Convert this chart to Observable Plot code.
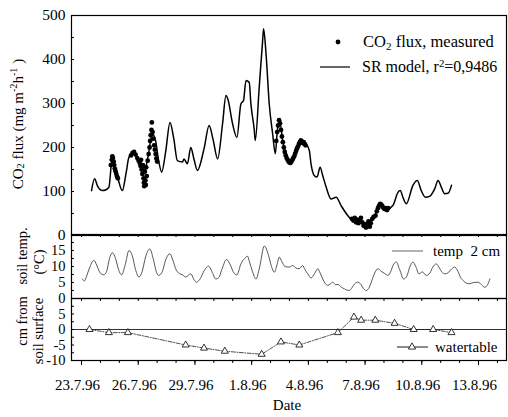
<!DOCTYPE html>
<html><head><meta charset="utf-8">
<script src="https://cdn.jsdelivr.net/npm/d3@7"></script>
<script src="https://cdn.jsdelivr.net/npm/@observablehq/plot@0.6"></script>
<style>
html,body{margin:0;padding:0;background:#fff;}
#chart{position:relative;width:508px;height:417px;}
#chart svg{position:absolute;left:0;top:0;background:transparent !important;}
#chart svg text{font-family:'Liberation Serif',serif !important;}
</style></head><body><div id="chart"></div>
<script>
// ---- data (days after 23.7.96 00:00) ----
const modelDay = [0.53,0.69,0.85,1.10,1.30,1.45,1.63,1.89,2.16,2.35,2.51,2.77,3.04,3.22,3.34,3.50,3.75,3.92,4.08,4.24,4.45,4.68,4.88,5.07,5.34,5.42,5.60,5.78,5.94,6.13,6.48,6.75,6.95,7.20,7.46,7.64,7.74,7.99,8.22,8.43,8.57,8.70,8.87,8.96,9.14,9.19,9.40,9.58,9.63,9.76,9.93,10.11,10.25,10.38,10.51,10.64,10.82,10.99,11.17,11.35,11.61,11.88,12.05,12.14,12.32,12.46,12.62,12.76,12.94,13.20,13.47,13.73,14.09,14.35,14.63,14.90,15.15,15.50,15.68,15.85,16.21,16.47,16.74,16.86,17.00,17.18,17.53,17.76,17.97,18.19,18.41,18.68,18.86,19.03,19.21,19.39,19.57];
const modelFlux = [102,129,112,102,104,110,178,136,102,140,178,189,170,160,148,175,231,215,170,144,190,257,220,170,167,174,163,200,175,148,197,250,220,174,254,318,310,254,223,299,307,352,348,299,239,216,337,443,470,413,299,231,186,246,254,216,185,170,167,189,216,208,193,163,136,133,155,136,110,83,87,68,45,34,32,28,30,42,62,68,61,68,98,102,87,72,114,125,102,87,89,106,125,110,95,96,114];

const measDay = [1.55,1.60,1.63,1.66,1.70,1.73,1.76,1.80,1.84,1.88,1.92,
 2.62,2.70,2.78,2.86,2.95,3.02,3.08,3.12,3.15,3.18,3.22,3.25,3.28,3.30,3.32,3.35,3.38,3.40,3.42,3.45,
 3.50,3.55,3.60,3.63,3.66,3.70,3.72,3.76,3.80,3.84,3.88,3.92,3.96,4.00,
 10.30,10.35,10.40,10.45,10.50,10.55,10.60,10.65,
 10.70,10.75,10.80,10.85,10.90,10.95,11.00,11.05,11.10,11.15,11.20,11.25,11.30,11.35,11.40,11.45,11.50,11.55,11.60,11.65,11.70,11.75,11.80,11.85,
 14.30,14.38,14.45,14.52,14.58,14.65,14.72,14.78,14.85,14.92,14.98,15.05,15.10,15.18,15.25,15.30,15.38,15.45,
 15.55,15.62,15.68,15.74,15.80,15.86,15.92,15.98,16.04,16.10,16.16,16.22];
const measFlux = [160,172,180,176,168,160,152,146,140,134,130,
 182,188,190,184,176,170,165,158,172,150,140,160,130,120,112,145,125,115,155,135,
 170,185,200,215,228,240,257,235,220,205,195,185,175,168,
 215,235,250,262,255,240,225,212,
 200,190,182,176,172,168,166,165,168,172,176,180,186,192,198,202,208,212,216,214,210,212,208,205,
 38,34,40,30,36,28,33,40,30,22,26,18,24,32,20,28,38,42,
 45,55,62,68,72,70,66,62,60,62,58,62];

const tempDay = [0.04,0.16,0.27,0.42,0.65,0.80,0.92,1.06,1.18,1.33,1.48,1.63,1.80,1.96,2.12,2.31,2.51,2.68,2.86,3.04,3.21,3.39,3.61,3.79,3.95,4.07,4.24,4.48,4.67,4.83,4.98,5.17,5.34,5.51,5.78,5.94,6.08,6.26,6.50,6.72,6.89,7.11,7.26,7.42,7.67,7.87,8.06,8.22,8.43,8.61,8.79,8.88,9.04,9.23,9.41,9.67,9.89,10.05,10.20,10.34,10.46,10.60,10.76,10.99,11.17,11.35,11.51,11.70,11.82,11.97,12.14,12.33,12.50,12.62,12.76,12.88,13.03,13.15,13.29,13.44,13.57,13.73,13.91,14.05,14.17,14.32,14.45,14.62,14.77,14.90,15.06,15.22,15.35,15.51,15.68,15.85,16.04,16.21,16.36,16.49,16.65,16.83,17.04,17.21,17.36,17.53,17.68,17.85,18.03,18.24,18.43,18.58,18.77,18.93,19.06,19.21,19.38,19.57,19.74,19.91,20.04,20.19,20.36,20.54,20.73,20.98,21.16,21.33,21.48,21.60];
const tempVal = [6.1,5.5,7.0,9.5,11.9,10.5,8.7,7.6,7.4,8.5,12.5,14.3,12.5,9.0,7.4,10.5,15.0,13.5,9.0,6.7,8.5,13.0,15.5,12.5,8.5,7.2,8.0,12.5,14.0,12.0,9.3,7.8,7.4,6.7,7.7,6.0,5.1,6.0,8.8,10.1,8.5,6.1,6.5,9.0,12.2,10.5,8.0,7.4,10.8,12.4,13.2,11.5,8.5,6.1,9.5,16.4,13.5,10.0,8.2,10.5,12.9,11.5,10.0,9.8,10.3,9.5,9.3,10.3,9.0,7.7,6.4,7.8,9.3,8.0,6.1,4.8,4.1,4.5,5.1,4.3,4.4,3.6,3.0,2.6,2.5,3.5,4.6,5.1,4.5,3.2,2.5,3.5,5.5,8.0,9.3,8.5,7.8,7.2,8.5,10.5,11.4,9.0,6.1,7.0,9.8,11.4,10.0,7.7,8.3,7.2,8.0,9.8,10.8,9.5,8.3,7.7,8.0,9.2,9.8,8.5,6.7,5.6,4.8,4.6,5.0,5.1,4.3,3.5,4.3,6.1];

const wtDay = [0.42,1.45,2.45,5.51,6.48,7.58,9.53,10.55,11.52,13.56,14.41,14.79,15.54,16.56,17.57,18.60,19.57];
const wtVal = [0,-1,-1,-5,-6,-7,-8,-4,-5,-1,4,3,3,2,0,0,-1];

const fluxTicks = [0,100,200,300,400,500];
const tempTicks = [0,5,10,15];
const wtTicks = [-10,-5,0,5];
const dateTickDays = [0,3,6,9,12,15,18,21];
const dateTickLabels = ["23.7.96","26.7.96","29.7.96","1.8.96","4.8.96","7.8.96","10.8.96","13.8.96"];

// ---- helpers ----
const BASE = Date.UTC(1996, 6, 23), DAY = 864e5;
const toDate = d => new Date(BASE + d * DAY);
const zipTo = (a, b) => a.map((d, i) => ({t: toDate(d), v: b[i]}));
const model = zipTo(modelDay, modelFlux);
const meas = zipTo(measDay, measFlux);
const temp = zipTo(tempDay, tempVal);
const wt = zipTo(wtDay, wtVal);
const dayTicks = d3.range(0, 23).map(toDate);
const majorTicks = dateTickDays.map(toDate);
const labelOf = new Map(majorTicks.map((d, i) => [+d, dateTickLabels[i]]));

const W = 508, H = 417, ML = 71, MR = 2;
const xDomain = [toDate(-0.53), toDate(22.48)];
const font = "'Liberation Serif', serif";
const common = (mt, mb) => ({
  width: W, height: H, marginLeft: ML, marginRight: MR, marginTop: mt, marginBottom: mb,
  style: {background: "transparent", fontFamily: font, fontSize: "15px", color: "black", overflow: "visible"}
});
const chart = document.getElementById("chart");

// Panel 1: CO2 flux
const p1 = Plot.plot({
  ...common(15, 182),
  x: {type: "utc", domain: xDomain, axis: null, label: null},
  y: {domain: [0, 500], label: null},
  marks: [
    Plot.tickY(d3.range(0, 501, 50), {y: d => d, insetRight: W - ML - MR - 3, stroke: "black"}),
    Plot.axisY(fluxTicks, {tickSize: 0, tickPadding: 6, fontSize: 15.5, label: null}),
    Plot.line(model, {x: "t", y: "v", stroke: "black", strokeWidth: 1.5, curve: "monotone-x"}),
    Plot.dot(meas, {x: "t", y: "v", r: 2.4, fill: "black", stroke: "none"}),
    Plot.frame({stroke: "black", strokeWidth: 1.2})
  ]
});

// Panel 2: soil temperature
const p2 = Plot.plot({
  ...common(234, 119),
  x: {type: "utc", domain: xDomain, axis: null, label: null},
  y: {domain: [0, 20], label: null},
  marks: [
    Plot.tickY(d3.range(0, 20.1, 2.5), {y: d => d, insetRight: W - ML - MR - 3, stroke: "black"}),
    Plot.tickX(dayTicks, {x: d => d, insetBottom: 64 - 3, stroke: "black"}),
    Plot.axisY(tempTicks, {tickSize: 0, tickPadding: 6, fontSize: 14.5, label: null}),
    Plot.line(temp, {x: "t", y: "v", stroke: "#444", strokeWidth: 0.9, curve: "monotone-x"}),
    Plot.frame({stroke: "black", strokeWidth: 1.2})
  ]
});

// Panel 3: watertable
const p3 = Plot.plot({
  ...common(298, 57),
  x: {type: "utc", domain: xDomain, label: null},
  y: {domain: [-10, 10], label: null},
  marks: [
    Plot.tickY(d3.range(-10, 10.1, 2.5), {y: d => d, insetRight: W - ML - MR - 3, stroke: "black"}),
    Plot.tickX(dayTicks, {x: d => d, insetBottom: 62 - 3, stroke: "black"}),
    Plot.tickX(dayTicks, {x: d => d, insetTop: 62, insetBottom: -3, stroke: "black"}),
    Plot.tickX(majorTicks, {x: d => d, insetTop: 62, insetBottom: -5, stroke: "black"}),
    Plot.axisY(wtTicks, {tickSize: 0, tickPadding: 6, fontSize: 14.5, label: null, tickFormat: d => String(d)}),
    Plot.axisX(majorTicks, {tickSize: 0, tickPadding: 19, dx: -4, fontSize: 15, label: null, tickFormat: d => labelOf.get(+d)}),
    Plot.ruleY([0], {stroke: "black", strokeWidth: 0.8}),
    Plot.line(wt, {x: "t", y: "v", stroke: "#222", strokeWidth: 0.8, strokeDasharray: "4,1.5,1,1.5"}),
    Plot.dot(wt, {x: "t", y: "v", symbol: "triangle", r: 2.6, fill: "white", stroke: "black", strokeWidth: 0.8}),
    Plot.frame({stroke: "black", strokeWidth: 1.2})
  ]
});

chart.append(p1, p2, p3);

// ---- text decorations: axis titles & legends ----
const g = d3.select(p3).append("g").attr("font-family", font).attr("fill", "black").attr("text-anchor", "start");
function richText(parts, attrs) {
  const t = g.append("text").attr("text-anchor", "start");
  for (const [k, v] of Object.entries(attrs)) t.attr(k, v);
  parts.forEach(p => {
    if (typeof p === "string") t.append("tspan").text(p);
    else t.append("tspan").attr("baseline-shift", p.sub ? "-25%" : "45%").attr("font-size", "68%").text(p.sub || p.sup);
  });
  return t;
}
const rot = (x, y) => `translate(${x},${y}) rotate(-90)`;
richText(["CO", {sub: "2"}, " flux (mg m", {sup: "-2"}, "h", {sup: "-1"}, " )"],
  {transform: rot(18, 124), "text-anchor": "middle", "dominant-baseline": "central", "font-size": 15});
richText(["soil temp."], {transform: rot(22, 256), "text-anchor": "middle", "dominant-baseline": "central", "font-size": 14.5});
richText(["(°C)"], {transform: rot(39, 262), "text-anchor": "middle", "dominant-baseline": "central", "font-size": 14.5});
richText(["cm from"], {transform: rot(22, 321), "text-anchor": "middle", "dominant-baseline": "central", "font-size": 14.5});
richText(["soil surface"], {transform: rot(38, 331), "text-anchor": "middle", "dominant-baseline": "central", "font-size": 14.5});
richText(["Date"], {x: 287, y: 410, "text-anchor": "middle", "font-size": 15});

// legend panel 1
g.append("circle").attr("cx", 338).attr("cy", 42).attr("r", 2.4);
richText(["CO", {sub: "2"}, " flux, measured"], {x: 363, y: 47, "font-size": 16.5});
g.append("line").attr("x1", 320).attr("x2", 350).attr("y1", 67).attr("y2", 67).attr("stroke", "black").attr("stroke-width", 1.2);
richText(["SR model, r", {sup: "2"}, "=0,9486"], {x: 362, y: 72, "font-size": 16});
// legend panel 2
g.append("line").attr("x1", 392).attr("x2", 423).attr("y1", 251).attr("y2", 251).attr("stroke", "#555").attr("stroke-width", 0.9);
richText(["temp\u00a0 2 cm"], {x: 433, y: 256, "font-size": 15});
// legend panel 3
g.append("line").attr("x1", 397).attr("x2", 428).attr("y1", 347).attr("y2", 347).attr("stroke", "black").attr("stroke-width", 0.9);
g.append("path").attr("d", d3.symbol(d3.symbolTriangle, 22)()).attr("transform", "translate(412,347)").attr("fill", "white").attr("stroke", "black").attr("stroke-width", 0.8);
richText(["watertable"], {x: 435, y: 352, "font-size": 15});
</script></body></html>
